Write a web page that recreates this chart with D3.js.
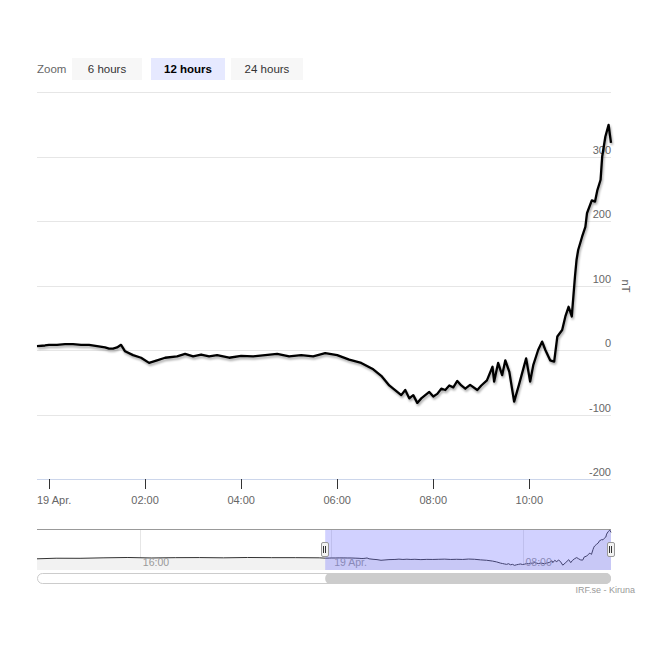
<!DOCTYPE html>
<html><head><meta charset="utf-8">
<script src="https://cdn.jsdelivr.net/npm/d3@7"></script>
<style>body{margin:0;background:#fff;font-family:"Liberation Sans",Arial,sans-serif}</style>
</head><body><svg id="c" width="654" height="654"></svg>
<script>
// Main (12 h) series: time (19 Apr) and value in nT
const mainTimes = ["-00:15","-00:05","00:00","00:10","00:20","00:30","00:40","00:50","01:00","01:10","01:15","01:20","01:25","01:30","01:35","01:45","01:55","02:05","02:15","02:25","02:40","02:50","03:00","03:10","03:20","03:30","03:45","04:00","04:15","04:30","04:45","05:00","05:15","05:30","05:45","06:00","06:15","06:30","06:45","06:55","07:05","07:10","07:15","07:20","07:25","07:30","07:35","07:40","07:45","07:50","07:55","08:00","08:05","08:10","08:15","08:20","08:25","08:30","08:35","08:40","08:46","08:55","09:00","09:07","09:14","09:16","09:21","09:26","09:30","09:35","09:41","09:47","09:56","10:01","10:05","10:11","10:16","10:20","10:26","10:31","10:35","10:41","10:45","10:49","10:51","10:53","10:57","10:59","11:01","11:06","11:10","11:12","11:18","11:22","11:25","11:29","11:31","11:35","11:39","11:42"];
const mainValues = [6,7,8,8,9,9,8,8,6,4,2,2,4,8,-2,-8,-12,-20,-16,-12,-10,-6,-10,-7,-10,-8,-12,-9,-10,-8,-6,-10,-8,-10,-5,-8,-15,-20,-30,-40,-55,-60,-65,-70,-62,-75,-70,-82,-75,-70,-65,-72,-68,-60,-62,-55,-58,-48,-55,-60,-54,-62,-55,-47,-26,-49,-20,-39,-16,-34,-80,-54,-13,-49,-23,0,13,0,-16,-18,21,31,52,67,60,52,114,140,155,176,191,212,232,230,248,264,300,331,349,321];
// Navigator (24 h) history before the main window (18 Apr)
const navTimes = ["11:42","12:30","13:30","14:30","15:30","16:30","17:30","18:30","19:30","20:30","21:30","22:30","23:30"];
const navValues = [-2,5,4,10,14,8,12,13,10,14,12,12,10];
const yTicks = [-200,-100,0,100,200,300];
const xTickLabels = ["19 Apr.","02:00","04:00","06:00","08:00","10:00"];
const zoomButtons = ["6 hours","12 hours","24 hours"];

function toDate(day, s){let neg=s[0]==="-";if(neg)s=s.slice(1);const [h,m]=s.split(":").map(Number);let t=Date.UTC(2013,3,day,0,0)+(neg?-1:1)*(h*60+m)*60000;return new Date(t);}
const main = mainTimes.map((t,i)=>({t:toDate(19,t),v:mainValues[i]}));
const nav = navTimes.map((t,i)=>({t:toDate(18,t),v:navValues[i]})).concat(main);

const svg=d3.select("#c");
const defs=svg.append("defs");
const f=defs.append("filter").attr("id","sh").attr("x","-5%").attr("y","-5%").attr("width","110%").attr("height","120%");
f.append("feDropShadow").attr("dx",1).attr("dy",2).attr("stdDeviation",1.3).attr("flood-color","#000").attr("flood-opacity",0.35);

const L=37,R=611,T=92,B=479;
const x=d3.scaleUtc().domain([toDate(19,"-00:15"),toDate(19,"11:42")]).range([L,R]);
const y=d3.scaleLinear().domain([-200,400]).range([B,T]);

// zoom buttons
svg.append("text").attr("x",37).attr("y",73).attr("font-size",11.5).attr("fill","#666").text("Zoom");
const bx=[72,151,231],bw=[70,74,72];
zoomButtons.forEach((b,i)=>{
  svg.append("rect").attr("x",bx[i]).attr("y",58).attr("width",bw[i]).attr("height",22).attr("fill",i===1?"#e6e9ff":"#f7f7f7");
  svg.append("text").attr("x",bx[i]+bw[i]/2).attr("y",73).attr("text-anchor","middle").attr("font-size",11.5).attr("font-weight",i===1?"bold":"normal").attr("fill",i===1?"#000":"#333").text(b);
});
// grid
svg.append("line").attr("x1",L).attr("x2",R).attr("y1",T+0.5).attr("y2",T+0.5).attr("stroke","#e6e6e6");
yTicks.forEach(v=>{
  if(v>-200) svg.append("line").attr("x1",L).attr("x2",R).attr("y1",Math.round(y(v))+0.5).attr("y2",Math.round(y(v))+0.5).attr("stroke","#e6e6e6");
  svg.append("text").attr("x",611).attr("y",y(v)-3).attr("text-anchor","end").attr("font-size",11).attr("fill","#666").text(v);
});
svg.append("text").attr("transform","translate(622,286) rotate(90)").attr("text-anchor","middle").attr("font-size",11).attr("fill","#666").text("nT");
// x axis
svg.append("line").attr("x1",L).attr("x2",R).attr("y1",B+0.5).attr("y2",B+0.5).attr("stroke","#ccd6eb");
const xt=[0,2,4,6,8,10].map(h=>toDate(19,String(h).padStart(2,"0")+":00"));
xt.forEach((d,i)=>{
  const px=Math.round(x(d))+0.5;
  svg.append("line").attr("x1",px).attr("x2",px).attr("y1",B).attr("y2",B+10).attr("stroke","#333");
  svg.append("text").attr("x",i===0?x(d)-12:x(d)).attr("y",504).attr("text-anchor",i===0?"start":"middle").attr("font-size",11).attr("fill","#666").text(xTickLabels[i]);
});
// main line
svg.append("path").datum(main).attr("fill","none").attr("stroke","#000").attr("stroke-width",2.3).attr("stroke-linejoin","round").attr("filter","url(#sh)")
 .attr("d",d3.line().x(d=>x(d.t)).y(d=>y(d.v)));

// navigator
const NT=530,NB=570;
const nx=d3.scaleUtc().domain([toDate(18,"11:42"),toDate(19,"11:42")]).range([L,R]);
const ny=d3.scaleLinear().domain([-90,350]).range([NB-4,NT]);
svg.append("line").attr("x1",L).attr("x2",R).attr("y1",NT-0.5).attr("y2",NT-0.5).attr("stroke","#999");
[toDate(18,"16:00"),toDate(19,"00:00"),toDate(19,"08:00")].forEach((d,i)=>{
  const px=Math.round(nx(d))+0.5;
  svg.append("line").attr("x1",px).attr("x2",px).attr("y1",NT).attr("y2",NB).attr("stroke","#e6e6e6");
});
const area=d3.area().x(d=>nx(d.t)).y0(NB).y1(d=>ny(d.v));
svg.append("path").datum(nav).attr("fill","#f2f2f2").attr("d",area);
svg.append("path").datum(nav).attr("fill","none").attr("stroke","#333").attr("stroke-width",1).attr("d",d3.line().x(d=>nx(d.t)).y(d=>ny(d.v)));
[["16:00",toDate(18,"16:00")],["19 Apr.",toDate(19,"00:00")],["08:00",toDate(19,"08:00")]].forEach(([s,d])=>{
  svg.append("text").attr("x",nx(d)+3).attr("y",566).attr("font-size",10.5).attr("fill","#999").text(s);
});
const s0=nx(x.domain()[0]),s1=nx(x.domain()[1]);
svg.append("rect").attr("x",s0).attr("y",NT).attr("width",s1-s0).attr("height",NB-NT).attr("fill","rgba(102,102,255,0.3)");
[s0,s1].forEach(px=>{
  svg.append("rect").attr("x",Math.round(px)-3.5).attr("y",542.5).attr("width",7).attr("height",14).attr("rx",1.5).attr("fill","#f2f2f2").attr("stroke","#999");
  svg.append("line").attr("x1",Math.round(px)-1.5).attr("x2",Math.round(px)-1.5).attr("y1",546).attr("y2",553).attr("stroke","#333");
  svg.append("line").attr("x1",Math.round(px)+0.5).attr("x2",Math.round(px)+0.5).attr("y1",546).attr("y2",553).attr("stroke","#333");
});
// scrollbar
svg.append("rect").attr("x",37.5).attr("y",573.5).attr("width",573).attr("height",10).attr("rx",5).attr("fill","#fff").attr("stroke","#ccc");
svg.append("rect").attr("x",s0).attr("y",573).attr("width",s1-s0).attr("height",11).attr("rx",5).attr("fill","#ccc");
svg.append("text").attr("x",635).attr("y",593).attr("text-anchor","end").attr("font-size",9).attr("fill","#999").text("IRF.se - Kiruna");
</script></body></html>
